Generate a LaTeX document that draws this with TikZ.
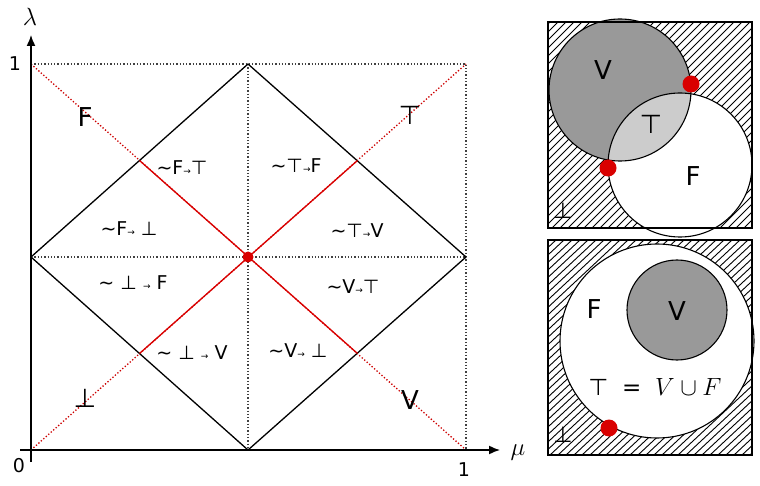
\documentclass[tikz,border=0pt]{standalone}
\usepackage{fontspec}
\setmainfont{DejaVu Sans}
\usetikzlibrary{arrows.meta}
\begin{document}
\begin{tikzpicture}[x=1pt,y=-1pt,
  dot/.style={dotted,line width=1.3pt,black!75},
  rdot/.style={dotted,red!80!black,line width=1.3pt},
  red/.style={draw=red!85!black,line width=1.3pt},
  big/.style={font=\fontsize{26}{26}\selectfont},
  reg/.style={font=\fontsize{19}{19}\selectfont},
  rdotmark/.style={circle,fill=red!85!black,inner sep=0pt,minimum size=17pt},
  box/.style={draw,line width=1.3pt},
  circ/.style={line width=1.1pt}]
\useasboundingbox (0,0) rectangle (760,486);
% grid
\coordinate (O) at (31,450); \coordinate (X1) at (466,450); \coordinate (Y1) at (31,64);
\coordinate (C11) at (466,64);
\draw[dot] (Y1) -- (C11) -- (X1);
\draw[dot] (248,64) -- (248,450);
\draw[dot] (31,257) -- (466,257);
\draw[rdot] (Y1) -- (X1);
\draw[rdot] (O) -- (C11);
% diamond
\coordinate (Dt) at (248,64); \coordinate (Dr) at (466,257);
\coordinate (Db) at (248,450); \coordinate (Dl) at (31,257);
\draw[line width=1.3pt] (Dt) -- (Dr) -- (Db) -- (Dl) -- cycle;
\draw[red] (139.5,160.5) -- (357.5,353.5);
\draw[red] (139.5,353.5) -- (357.5,160.5);
\node[circle,fill=red!85!black,inner sep=0pt,minimum size=11pt] (ctr) at (248,257) {};
% axes
\draw[-{Latex[length=11pt,width=9pt]},line width=1.5pt] (20,450) -- (500,450);
\draw[-{Latex[length=11pt,width=9pt]},line width=1.5pt] (31,462) -- (31,35);
\node[font=\fontsize{24}{24}\selectfont] (lam) at (30,17) {$\lambda$};
\node[font=\fontsize{24}{24}\selectfont] (mu) at (518,453) {$\mu$};
\node[reg] (z) at (19,466) {0};
\node[reg] (one1) at (464,470) {1};
\node[reg] (one2) at (15,64) {1};
\node[big] (F) at (85,117) {F};
\node[big] (T) at (410,115) {⊤};
\node[big] (B) at (85,398) {⊥};
\node[big] (V) at (410,400) {V};
\node[reg] at (182,168) {\textasciitilde F{\small→}⊤};
\node[reg] at (296,166) {\textasciitilde ⊤{\small→}F};
\node[reg] at (129,229) {\textasciitilde F{\small→} ⊥};
\node[reg] at (357,231) {\textasciitilde ⊤{\small→}V};
\node[reg] at (133,283) {\textasciitilde\ ⊥ {\small→} F};
\node[reg] at (353,287) {\textasciitilde V{\small→}⊤};
\node[reg] at (192,353) {\textasciitilde\ ⊥ {\small→} V};
\node[reg] at (298,351) {\textasciitilde V{\small→} ⊥};
% top right panel
\begin{scope}
\clip (548,22) rectangle (752,228);
\foreach \k in {0,8,...,440} {\draw[line width=0.9pt] (548+\k-220,228) -- (548+\k-14,22);}
\end{scope}
\fill[white] (680,165) circle (72);
\fill[gray!80] (620,90) circle (71);
\begin{scope}\clip (620,90) circle (71);
\fill[gray!40] (680,165) circle (72);
\end{scope}
\draw[circ] (620,90) circle (71);
\draw[circ] (680,165) circle (72);
\draw[box] (548,22) rectangle (752,228);
\node[rdotmark] at (691,84) {};
\node[rdotmark] at (608,168) {};
\node[big] at (603,70) {V};
\node[big] at (651,124) {⊤};
\node[big] at (693,176) {F};
\node[font=\fontsize{22}{22}\selectfont] at (563,211) {⊥};
% bottom right panel
\begin{scope}
\clip (548,240) rectangle (752,455);
\foreach \k in {0,8,...,460} {\draw[line width=0.9pt] (548+\k-230,455) -- (548+\k,240);}
\end{scope}
\fill[white] (657,341) circle (97);
\draw[circ] (657,341) circle (97);
\fill[gray!80] (677,310) circle (50);
\draw[circ] (677,310) circle (50);
\draw[box] (548,240) rectangle (752,455);
\node[rdotmark] at (609,428) {};
\node[big] at (594,309) {F};
\node[big] at (677,311) {V};
\node[font=\fontsize{23}{23}\selectfont] at (655,387) {⊤ \;=\; $V\cup F$};
\node[font=\fontsize{22}{22}\selectfont] at (563,435) {⊥};
\end{tikzpicture}
\end{document}
